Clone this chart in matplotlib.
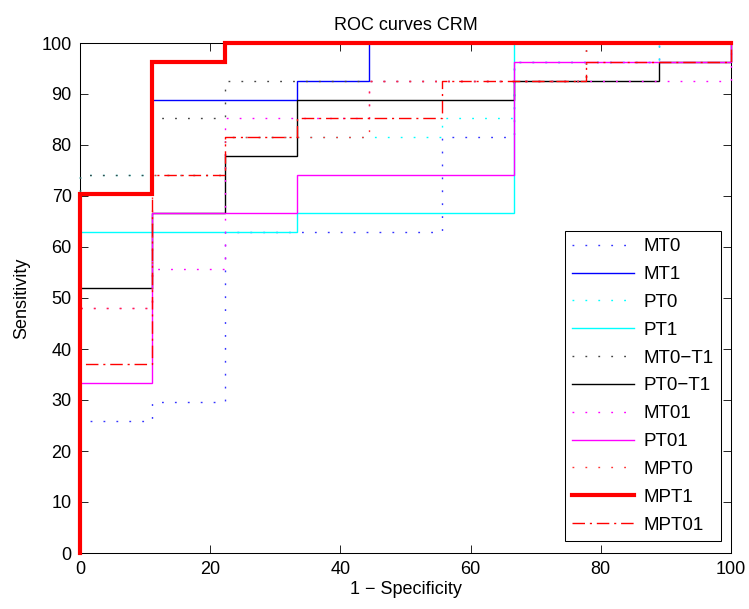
import matplotlib
matplotlib.use("Agg")
import matplotlib.pyplot as plt

plt.rcParams['font.family'] = ['Liberation Sans', 'DejaVu Sans']

labels = ["MT0", "MT1", "PT0", "PT1", "MT0\u2212T1", "PT0\u2212T1",
          "MT01", "PT01", "MPT0", "MPT1", "MPT01"]

# ROC vertices (1 - specificity, sensitivity), in %
mt0_x = [0, 0, 11.1, 11.1, 22.2, 22.2, 55.6, 55.6, 66.7, 66.7, 88.9, 88.9, 100]
mt0_y = [0, 25.9, 25.9, 29.6, 29.6, 63.0, 63.0, 81.5, 81.5, 96.3, 96.3, 100, 100]
mt1_x = [0, 0, 11.1, 11.1, 33.3, 33.3, 44.4, 44.4, 100]
mt1_y = [0, 70.4, 70.4, 88.9, 88.9, 92.6, 92.6, 100, 100]
pt0_x = [0, 0, 22.2, 22.2, 55.6, 55.6, 66.7, 66.7, 88.9, 88.9, 100]
pt0_y = [0, 74.1, 74.1, 81.5, 81.5, 85.2, 85.2, 96.3, 96.3, 100, 100]
pt1_x = [0, 0, 33.3, 33.3, 66.7, 66.7, 100]
pt1_y = [0, 63.0, 63.0, 66.7, 66.7, 100, 100]
mt0t1_x = [0, 0, 11.1, 11.1, 22.2, 22.2, 77.8, 77.8, 100]
mt0t1_y = [0, 74.1, 74.1, 85.2, 85.2, 92.6, 92.6, 100, 100]
pt0t1_x = [0, 0, 11.1, 11.1, 22.2, 22.2, 33.3, 33.3, 66.7, 66.7, 88.9, 88.9, 100, 100]
pt0t1_y = [0, 51.9, 51.9, 66.7, 66.7, 77.8, 77.8, 88.9, 88.9, 92.6, 92.6, 96.3, 96.3, 100]
mt01_x = [0, 0, 11.1, 11.1, 22.2, 22.2, 44.4, 44.4, 100, 100]
mt01_y = [0, 48.1, 48.1, 55.6, 55.6, 85.2, 85.2, 92.6, 92.6, 100]
pt01_x = [0, 0, 11.1, 11.1, 33.3, 33.3, 66.7, 66.7, 100, 100]
pt01_y = [0, 33.3, 33.3, 66.7, 66.7, 74.1, 74.1, 96.3, 96.3, 100]
mpt0_x = [0, 0, 11.1, 11.1, 22.2, 22.2, 44.4, 44.4, 77.8, 77.8, 100]
mpt0_y = [0, 48.1, 48.1, 74.1, 74.1, 81.5, 81.5, 92.6, 92.6, 100, 100]
mpt1_x = [0, 0, 11.1, 11.1, 22.2, 22.2, 100]
mpt1_y = [0, 70.4, 70.4, 96.3, 96.3, 100, 100]
mpt01_x = [0, 0, 11.1, 11.1, 22.2, 22.2, 33.3, 33.3, 55.6, 55.6, 77.8, 77.8, 100, 100]
mpt01_y = [0, 37.0, 37.0, 74.1, 74.1, 81.5, 81.5, 85.2, 85.2, 92.6, 92.6, 96.3, 96.3, 100]

xs = [mt0_x, mt1_x, pt0_x, pt1_x, mt0t1_x, pt0t1_x, mt01_x, pt01_x, mpt0_x, mpt1_x, mpt01_x]
ys = [mt0_y, mt1_y, pt0_y, pt1_y, mt0t1_y, pt0t1_y, mt01_y, pt01_y, mpt0_y, mpt1_y, mpt01_y]

dot = (0, (1.3, 8.0))
dashdot = (0, (9, 3.5, 1.5, 3.5))
thin = 1.0
styles = [
    dict(color='#3333ff', linestyle=dot, linewidth=thin),
    dict(color='#0000ff', linestyle='-', linewidth=thin),
    dict(color='#00ffff', linestyle=dot, linewidth=thin),
    dict(color='#00ffff', linestyle='-', linewidth=thin),
    dict(color='#444444', linestyle=dot, linewidth=thin),
    dict(color='#000000', linestyle='-', linewidth=thin),
    dict(color='#ff00ff', linestyle=dot, linewidth=thin),
    dict(color='#ff00ff', linestyle='-', linewidth=thin),
    dict(color='#ff3333', linestyle=dot, linewidth=thin),
    dict(color='#ff0000', linestyle='-', linewidth=3.0),
    dict(color='#ff0000', linestyle=dashdot, linewidth=thin),
]

fig = plt.figure(figsize=(7.49, 6.09), dpi=100)
ax = fig.add_axes([80/749, 1-553/609, 651/749, 510/609])

for x, y, lab, st in zip(xs, ys, labels, styles):
    ax.plot(x, y, label=lab, clip_on=False, solid_joinstyle='miter', **st)

ax.set_xlim(0, 100)
ax.set_ylim(0, 100)
ax.set_xticks(range(0, 101, 20))
ax.set_yticks(range(0, 101, 10))
ax.tick_params(direction='in', top=True, right=True, length=6, width=0.6,
               labelsize=13, pad=6)
for s in ax.spines.values():
    s.set_linewidth(0.75)
    s.set_zorder(0)

ax.set_title("ROC curves CRM", fontsize=13, pad=9)
ax.set_xlabel("1 \u2212 Specificity", fontsize=13, labelpad=2)
ax.set_ylabel("Sensitivity", fontsize=13, labelpad=8)

leg = ax.legend(loc='lower right', bbox_to_anchor=((721-80)/651, (553-541)/510),
                borderaxespad=0, fontsize=13.5, handlelength=3.3, labelspacing=0.57,
                fancybox=False, framealpha=1, edgecolor='black', handletextpad=0.5,
                borderpad=0.4)
leg.get_frame().set_linewidth(0.75)

fig.savefig("out.png", dpi=100)
